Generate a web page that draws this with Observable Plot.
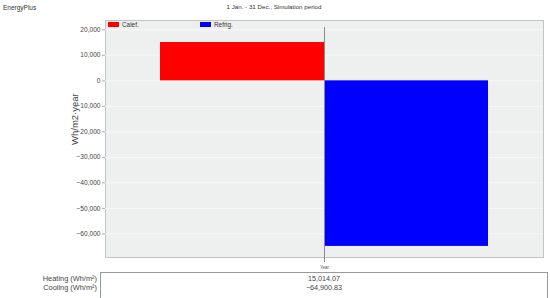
<!DOCTYPE html>
<html>
<head>
<meta charset="utf-8">
<script src="https://cdn.jsdelivr.net/npm/d3@7"></script>
<script src="https://cdn.jsdelivr.net/npm/@observablehq/plot@0.6"></script>
<style>
  html, body { margin: 0; padding: 0; background: #fff; }
  #wrap { position: relative; width: 550px; height: 298px; overflow: hidden; font-family: "Liberation Sans", Arial, sans-serif; color: #333; }
  .abs { position: absolute; white-space: nowrap; }
  .sw { position: absolute; width: 11px; height: 5px; }
</style>
</head>
<body>
<div id="wrap"></div>
<script>
// ---- data ----
const periods = ["Year"];
const series = ["Calef.", "Refrig."];
const seriesColors = ["#ff0000", "#0000ff"];
const values = [15014.07, -64900.83];
const tableLabels = ["Heating (Wh/m²)", "Cooling (Wh/m²)"];
const yTicks = [20000, 10000, 0, -10000, -20000, -30000, -40000, -50000, -60000];
const title = "1 Jan. - 31 Dec., Simulation period";
const brand = "EnergyPlus";
const yLabel = "Wh/m2·year";

const rows = series.map((s, i) => ({period: periods[0], series: s, value: values[i]}));
const fmt = d3.format(",.0f");
const fmt2 = d3.format(",.2f");

const chart = Plot.plot({
  width: 550,
  height: 298,
  marginLeft: 105,
  marginRight: 7,
  marginTop: 20,
  marginBottom: 41,
  style: {fontFamily: "Liberation Sans, Arial, sans-serif", fontSize: "6.6px", color: "#444", background: "transparent"},
  x: {domain: series, paddingInner: 0, paddingOuter: 0.335, axis: null},
  y: {domain: [-69250, 23650], ticks: yTicks, tickFormat: fmt, label: null},
  color: {domain: series, range: seriesColors},
  marks: [
    Plot.frame({fill: "#eeefef", stroke: "#c4c4c4"}),
    Plot.gridY(yTicks, {stroke: "#f8f8f8", strokeOpacity: 1}),
    Plot.axisY(yTicks, {tickSize: 3, tickPadding: 2, stroke: "#aaa", tickFormat: fmt, label: null, fill: "#444"}),
    Plot.barY(rows, {x: "series", y: "value", fill: "series"}),
    Plot.ruleX([0], {x: null, stroke: "#8a8a8a", strokeWidth: 1, insetTop: 7, insetBottom: -5}),
    Plot.text(periods, {text: d => d, frameAnchor: "bottom", dy: 11, fontSize: 4.5, fill: "#555"}),
    Plot.text([yLabel], {text: d => d, frameAnchor: "left", dx: -31, dy: 6, rotate: -90, fontSize: 9.5, fill: "#444"})
  ]
});
const wrap = document.getElementById("wrap");
wrap.appendChild(chart);

function addText(txt, css) {
  const d = document.createElement("div");
  d.className = "abs";
  d.textContent = txt;
  Object.assign(d.style, css);
  wrap.appendChild(d);
  return d;
}
addText(brand, {left: "3px", top: "4px", fontSize: "6.5px"});
addText(title, {left: "-1px", width: "550px", textAlign: "center", top: "3px", fontSize: "6.2px"});

// legend
const legX = [108, 200];
series.forEach((s, i) => {
  const sw = document.createElement("div");
  sw.className = "sw";
  Object.assign(sw.style, {left: legX[i] + "px", top: "22px", background: seriesColors[i]});
  wrap.appendChild(sw);
  addText(s, {left: (legX[i] + 14) + "px", top: "20.5px", fontSize: "6.4px"});
});

// table
const box = document.createElement("div");
box.className = "abs";
Object.assign(box.style, {left: "100px", top: "272px", width: "448px", height: "40px", border: "1px solid #999", boxSizing: "border-box"});
wrap.appendChild(box);
tableLabels.forEach((lab, i) => {
  addText(lab, {right: (550 - 97) + "px", top: (274 + i * 8.5) + "px", fontSize: "7.4px", textAlign: "right", color: "#444"});
  addText(fmt2(values[i]).replace("-", "\u2212"), {left: "224px", width: "200px", textAlign: "center", top: (274 + i * 8.5) + "px", fontSize: "7.2px", color: "#444"});
});
</script>
</body>
</html>
